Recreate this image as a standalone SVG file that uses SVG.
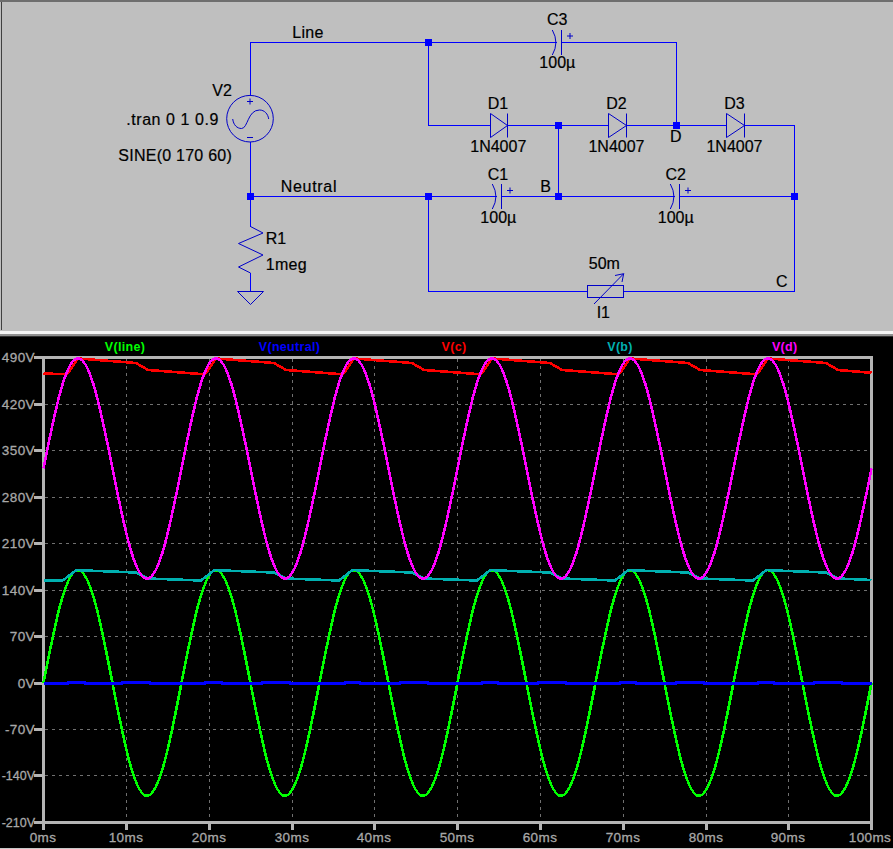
<svg xmlns="http://www.w3.org/2000/svg" width="893" height="849" viewBox="0 0 893 849">
<style>
text{font-family:"Liberation Sans",Arial,sans-serif}
.s{font-size:16px;fill:#000;stroke:#000;stroke-width:.2}
.m{text-anchor:middle}
.w{fill:none;stroke:#0000ff;stroke-width:1;shape-rendering:crispEdges}
.c{fill:none;stroke:#0000c8;stroke-width:1}
.j{fill:#0000ff;shape-rendering:crispEdges}
.g{fill:none;stroke:#707070;stroke-width:1;stroke-dasharray:3 4;shape-rendering:crispEdges}
.a{fill:none;stroke:#b4b4b4;stroke-width:3;shape-rendering:crispEdges}
.y{font-size:13.500px;fill:#a8a8a8;stroke:#a8a8a8;stroke-width:.3;letter-spacing:.4px;text-anchor:end}
.n{font-size:12.500px;letter-spacing:0}
.x{font-size:13.500px;fill:#a8a8a8;stroke:#a8a8a8;stroke-width:.3;letter-spacing:.4px;text-anchor:middle}
.l{font-size:12.500px;font-weight:bold;letter-spacing:.3px;text-anchor:middle}
.t{fill:none;stroke-width:2.600;stroke-linejoin:round;shape-rendering:crispEdges}
</style>
<rect width="893" height="849" fill="#000"/>
<rect x="0" y="0" width="893" height="331" fill="#bfbfbf"/>
<path d="M0 1H893" stroke="#6e6e6e" stroke-width="2"/>
<path d="M1.500 2V330" stroke="#404040" stroke-width="1"/>
<rect x="0" y="331" width="893" height="3" fill="#f4f4f4"/>
<rect x="0" y="334" width="893" height="2" fill="#909090"/>
<rect x="0" y="336" width="893" height="1" fill="#303030"/>
<rect x="0" y="848" width="893" height="1" fill="#c8c8c8"/>
<g id="connectors">
<path class="w" d="M250.500 95V42.500H676.500V125.500M428.500 42.500V125.500H794.500V291.500H428.500V196.500M250.500 142V226.500M250.500 196.500H794.500M558.500 125.500V196.500M250.500 273V291.500"/>
</g>
<g id="junctions">
<rect class="j" x="425" y="39" width="7" height="7"/>
<rect class="j" x="555" y="122" width="7" height="7"/>
<rect class="j" x="673" y="122" width="7" height="7"/>
<rect class="j" x="247" y="193" width="7" height="7"/>
<rect class="j" x="425" y="193" width="7" height="7"/>
<rect class="j" x="555" y="193" width="7" height="7"/>
<rect class="j" x="791" y="193" width="7" height="7"/>
</g>
<g id="V2">
<circle class="c" cx="250" cy="118.700" r="23.300"/>
<path class="c" d="M232.700 119C233.500 125 237 128.500 241.500 128.500C248 128.500 247.500 110 259.500 110C264.500 110 268 114 268.700 119M247 101.500H253M250 98.500V104.500M247 137.500H253"/>
<text class="s" x="212.300" y="96">V2</text>
<text class="s" x="126.300" y="125" letter-spacing=".55">.tran 0 1 0.9</text>
<text class="s" x="118.300" y="161.300" letter-spacing=".25">SINE(0 170 60)</text>
</g>
<g id="R1">
<path class="c" d="M250.500 226.500L263 233L238.500 243.500L263 255L238.500 267L250.500 273"/>
<text class="s" x="265.700" y="244">R1</text>
<text class="s" x="265.700" y="270" letter-spacing=".3">1meg</text>
</g>
<g id="GND"><path class="c" d="M237.500 291.500H263.500L250.500 304.500Z"/></g>
<g id="C3">
<rect x="557" y="30" width="4" height="25" fill="#bfbfbf"/>
<path class="c" d="M552.300 30Q559.500 42.500 552.300 55M561.500 30V55M567 36H573M570 33V39"/>
<text class="s m" x="557.300" y="25">C3</text>
<text class="s m" x="557.300" y="68">100µ</text>
</g>
<g id="C1">
<rect x="497" y="184" width="4" height="25" fill="#bfbfbf"/>
<path class="c" d="M492.300 184Q499.500 196.500 492.300 209M501.500 184V209M507 190.500H513M510 187.500V193.500"/>
<text class="s m" x="498" y="180">C1</text>
<text class="s m" x="498.300" y="222.700">100µ</text>
</g>
<g id="C2">
<rect x="675" y="184" width="4" height="25" fill="#bfbfbf"/>
<path class="c" d="M670.300 184Q677.500 196.500 670.300 209M679.500 184V209M685 190.500H691M688 187.500V193.500"/>
<text class="s m" x="675.700" y="180">C2</text>
<text class="s m" x="675.700" y="222.700">100µ</text>
</g>
<g id="D1">
<path d="M490.500 113.500V137.500L507.500 125.500Z" fill="#bfbfbf" stroke="#0000c8"/>
<path class="c" d="M507.500 113.500V137.500"/>
<text class="s m" x="498" y="109">D1</text>
<text class="s m" x="498.300" y="151.700">1N4007</text>
</g>
<g id="D2">
<path d="M608.500 113.500V137.500L626.500 125.500Z" fill="#bfbfbf" stroke="#0000c8"/>
<path class="c" d="M626.500 113.500V137.500"/>
<text class="s m" x="616.500" y="109">D2</text>
<text class="s m" x="616.500" y="151.700">1N4007</text>
</g>
<g id="D3">
<path d="M726.500 113.500V137.500L744.500 125.500Z" fill="#bfbfbf" stroke="#0000c8"/>
<path class="c" d="M744.500 113.500V137.500"/>
<text class="s m" x="734.500" y="109">D3</text>
<text class="s m" x="734.500" y="151.700">1N4007</text>
</g>
<g id="I1">
<rect x="587.500" y="285.500" width="36" height="12" fill="#bfbfbf" stroke="#0000c8"/>
<path class="c" d="M594 304L623.700 273.700M615 275.500L623.700 273.700L622 282"/>
<text class="s m" x="604.300" y="268.700">50m</text>
<text class="s m" x="603.300" y="318">I1</text>
</g>
<g id="labels">
<text class="s" x="292.300" y="37.700" letter-spacing=".3">Line</text>
<text class="s" x="280.700" y="192" letter-spacing=".7">Neutral</text>
<text class="s m" x="545.700" y="191.700">B</text>
<text class="s m" x="675.700" y="141.700">D</text>
<text class="s m" x="781.700" y="286.700">C</text>
</g>
<g id="plot">
<path class="g" d="M45 404.500H871M45 450.500H871M45 497.500H871M45 543.500H871M45 590.500H871M45 636.500H871M45 683.500H871M45 729.500H871M45 775.500H871"/>
<path class="g" d="M126.500 359V822M209.500 359V822M292.500 359V822M374.500 359V822M457.500 359V822M540.500 359V822M623.500 359V822M706.500 359V822M788.500 359V822"/>
<path class="a" d="M43.500 357.500H871.500V822.500H43.500ZM34 404.500H43M34 450.500H43M34 497.500H43M34 543.500H43M34 590.500H43M34 636.500H43M34 683.500H43M34 729.500H43M34 775.500H43M34 357.500H43M34 822.500H43M43.500 823V830M126.500 823V830M209.500 823V830M292.500 823V830M374.500 823V830M457.500 823V830M540.500 823V830M623.500 823V830M706.500 823V830M788.500 823V830M871.500 823V830"/>
<g>
<text class="y" x="35" y="362">490V</text><text class="y" x="35" y="409">420V</text><text class="y" x="35" y="455">350V</text><text class="y" x="35" y="502">280V</text><text class="y" x="35" y="548">210V</text><text class="y" x="35" y="595">140V</text><text class="y" x="35" y="641">70V</text><text class="y" x="35" y="688">0V</text><text class="y" x="35" y="734">-70V</text><text class="y n" x="35" y="780">-140V</text><text class="y n" x="35" y="827">-210V</text>
<text class="x" x="43" y="842">0ms</text><text class="x" x="126" y="842">10ms</text><text class="x" x="209" y="842">20ms</text><text class="x" x="292" y="842">30ms</text><text class="x" x="374" y="842">40ms</text><text class="x" x="457" y="842">50ms</text><text class="x" x="540" y="842">60ms</text><text class="x" x="623" y="842">70ms</text><text class="x" x="706" y="842">80ms</text><text class="x" x="788" y="842">90ms</text><text class="x" x="870" y="842">100ms</text>
</g>
<text class="l" x="125" y="351" fill="#00ff00">V(line)</text>
<text class="l" x="289.500" y="351" fill="#0000ff">V(neutral)</text>
<text class="l" x="454" y="351" fill="#ff0000">V(c)</text>
<text class="l" x="620" y="351" fill="#00b0b0">V(b)</text>
<text class="l" x="784.700" y="351" fill="#ff00ff">V(d)</text>
<path class="t" stroke="#00ff00" d="M43.500 683c11.250 -57.800 22 -112.900 34.500 -112.900c12.500 0 23.250 55.100 34.500 112.900c11.250 57.800 22 112.900 34.500 112.900c12.500 0 23.250 -55.100 34.500 -112.900c11.250 -57.800 22 -112.900 34.500 -112.900c12.500 0 23.250 55.100 34.500 112.900c11.250 57.800 22 112.900 34.500 112.900c12.500 0 23.250 -55.100 34.500 -112.900c11.250 -57.800 22 -112.900 34.500 -112.900c12.500 0 23.250 55.100 34.500 112.900c11.250 57.800 22 112.900 34.500 112.900c12.500 0 23.250 -55.100 34.500 -112.900c11.250 -57.800 22 -112.900 34.500 -112.900c12.500 0 23.250 55.100 34.500 112.900c11.250 57.800 22 112.900 34.500 112.900c12.500 0 23.250 -55.100 34.500 -112.900c11.250 -57.800 22 -112.900 34.500 -112.900c12.500 0 23.250 55.100 34.500 112.900c11.250 57.800 22 112.900 34.500 112.900c12.500 0 23.250 -55.100 34.500 -112.900c11.250 -57.800 22 -112.900 34.500 -112.900c12.500 0 23.250 55.100 34.500 112.900c11.250 57.800 22 112.900 34.500 112.900c12.500 0 23.250 -55.100 34.500 -112.900"/>
<path class="t" stroke="#0000ff" d="M43.500 683.500H68V682.500H85V683.500H122V682.500H150V683.500H205V682.500H222V683.500H262V682.500H290V683.500H345V682.500H360V683.500H400V682.500H428V683.500H482V682.500H498V683.500H538V682.500H566V683.500H620V682.500H636V683.500H676V682.500H704V683.500H758V682.500H774V683.500H814V682.500H842V683.500H871.500"/>
<path class="t" stroke="#ff0000" d="M43.500 373.500L67 374.300L78 358.500L85 359L136 363L148 370L205 374.300L216 358.500L223 359L274 363L286 370L343 374.300L354 358.500L361 359L412 363L424 370L481 374.300L492 358.500L499 359L550 363L562 370L619 374.300L630 358.500L637 359L688 363L700 370L757 374.300L768 358.500L775 359L826 363L838 370L871.500 372.800"/>
<path class="t" stroke="#00b0b0" d="M43.500 580.300H63L76.500 570L85 570.500L136 572.500L148 578.500L201 580.500L214.500 570L223 570.500L274 572.500L286 578.500L339 580.500L352.500 570L361 570.500L412 572.500L424 578.500L477 580.500L490.500 570L499 570.500L550 572.500L562 578.500L615 580.500L628.500 570L637 570.500L688 572.500L700 578.500L753 580.500L766.500 570L775 570.500L826 572.500L838 578.500L871.500 580"/>
<path class="t" stroke="#ff00ff" d="M43.500 468.500c11.250 -56.500 22 -110.300 34.500 -110.300c12.500 0 23.250 53.800 34.500 110.300c11.250 56.500 22 110.300 34.500 110.300c12.500 0 23.250 -53.800 34.500 -110.300c11.250 -56.500 22 -110.300 34.500 -110.300c12.500 0 23.250 53.800 34.500 110.300c11.250 56.500 22 110.300 34.500 110.300c12.500 0 23.250 -53.800 34.500 -110.300c11.250 -56.500 22 -110.300 34.500 -110.300c12.500 0 23.250 53.800 34.500 110.300c11.250 56.500 22 110.300 34.500 110.300c12.500 0 23.250 -53.800 34.500 -110.300c11.250 -56.500 22 -110.300 34.500 -110.300c12.500 0 23.250 53.800 34.500 110.300c11.250 56.500 22 110.300 34.500 110.300c12.500 0 23.250 -53.800 34.500 -110.300c11.250 -56.500 22 -110.300 34.500 -110.300c12.500 0 23.250 53.800 34.500 110.300c11.250 56.500 22 110.300 34.500 110.300c12.500 0 23.250 -53.800 34.500 -110.300c11.250 -56.500 22 -110.300 34.500 -110.300c12.500 0 23.250 53.800 34.500 110.300c11.250 56.500 22 110.300 34.500 110.300c12.500 0 23.250 -53.800 34.500 -110.300"/>
</g>
</svg>
